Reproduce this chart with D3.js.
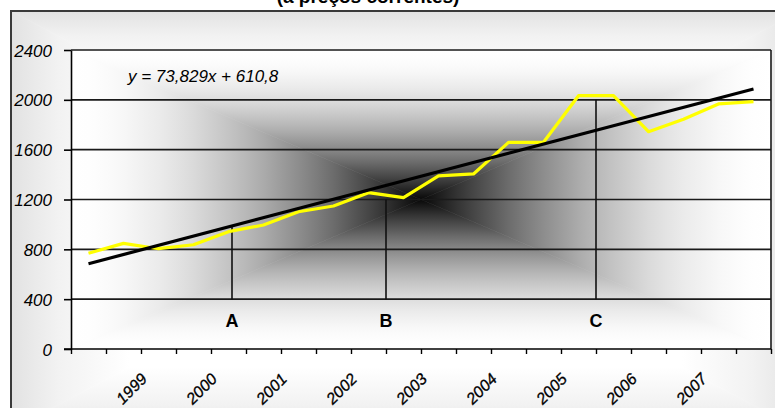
<!DOCTYPE html>
<html><head><meta charset="utf-8">
<script src="https://cdnjs.cloudflare.com/ajax/libs/d3/7.8.5/d3.min.js"></script>
<style>body{margin:0;background:#fff}svg{display:block}</style>
</head><body>
<svg id="chart" width="775" height="408"></svg>
<script>
// ---- data ----
const titleText = "(a preços correntes)";
const categories = [1,2,3,4,5,6,7,8,9,10,11,12,13,14,15,16,17,18,19,20];
const values = [768, 848, 805, 837, 942, 995, 1102, 1148, 1255, 1215, 1389, 1405, 1659, 1659, 2033, 2033, 1744, 1844, 1967, 1985];
const trendSlope = 73.829;
const trendIntercept = 610.8;
const equationText = "y = 73,829x + 610,8";
const yTicks = [0, 400, 800, 1200, 1600, 2000, 2400];
const yearLabels = ["1999","2000","2001","2002","2003","2004","2005","2006","2007"];
const markerLabels = ["A","B","C"];
const markerX = [5.1, 9.5, 15.5];
const markerTop = [990, 1200, 2000];
const markerBottom = 400;

// ---- layout ----
const svg = d3.select("#chart");
const P = {l:71, r:771, t:50, b:349};
const x = d3.scaleLinear().domain([0.5, categories.length + 0.5]).range([P.l, P.r]);
const y = d3.scaleLinear().domain([0, 2400]).range([P.b, P.t]);
const FONT = "'Liberation Sans', Arial, Helvetica, sans-serif";
const defs = svg.append("defs");

// rectangular "from center" gradient built from four triangles
function rectGradient(id, x0, y0, x1, y1, stops) {
  const cx = (x0 + x1) / 2, cy = (y0 + y1) / 2;
  const parts = [
    {k:"t", pts:[[x0,y0],[x1,y0],[cx,cy]], g:[cx,y0,cx,cy]},
    {k:"b", pts:[[x0,y1],[x1,y1],[cx,cy]], g:[cx,y1,cx,cy]},
    {k:"l", pts:[[x0,y0],[x0,y1],[cx,cy]], g:[x0,cy,cx,cy]},
    {k:"r", pts:[[x1,y0],[x1,y1],[cx,cy]], g:[x1,cy,cx,cy]}
  ];
  const gEl = svg.append("g");
  parts.forEach(p => {
    const lg = defs.append("linearGradient").attr("id", id + p.k)
      .attr("gradientUnits", "userSpaceOnUse")
      .attr("x1", p.g[0]).attr("y1", p.g[1]).attr("x2", p.g[2]).attr("y2", p.g[3]);
    stops.forEach(s => lg.append("stop").attr("offset", s[0]).attr("stop-color", s[1]));
    gEl.append("path").attr("d", "M" + p.pts.map(q => q.join(",")).join("L") + "Z")
      .attr("fill", "url(#" + id + p.k + ")").attr("stroke", "url(#" + id + p.k + ")").attr("stroke-width", 0.6);
  });
}
function profile(fn) {
  return d3.range(0, 21).map(i => {
    const t = i / 20; const v = Math.max(0, Math.min(255, Math.round(255 * fn(t))));
    return [t, d3.rgb(v, v, v).formatHex()];
  });
}

// chart area (light gradient)
const chartStops = [[0,"#e2e2e2"],[0.12,"#f2f2f2"],[0.3,"#ffffff"],[1,"#ffffff"]];
rectGradient("ca", 11, 11, 800, 430, chartStops);
svg.append("rect").attr("x", 11).attr("y", 11).attr("width", 800).attr("height", 420)
  .attr("fill", "none").attr("stroke", "#3a3a3a").attr("stroke-width", 2);

// title (cut off at top, as in the reference)
svg.append("text").attr("x", 368).attr("y", 3).attr("text-anchor", "middle")
  .attr("font-family", FONT).attr("font-weight", "bold").attr("font-size", 19)
  .attr("fill", "#000").text(titleText);

// plot area gradient: white edges to black centre
rectGradient("pa", P.l, P.t, P.r, P.b, profile(t => 1 - 0.97 * Math.pow(t, 1.8)));

// gridlines
svg.append("g").selectAll("line").data(yTicks.filter(d => d > 0)).join("line")
  .attr("x1", P.l).attr("x2", P.r).attr("y1", d => y(d)).attr("y2", d => y(d))
  .attr("stroke", "#1a1a1a").attr("stroke-width", 1.6);
// right plot border
svg.append("line").attr("x1", P.r).attr("x2", P.r).attr("y1", P.t).attr("y2", P.b)
  .attr("stroke", "#1a1a1a").attr("stroke-width", 1.6);

// y axis
const yAxis = svg.append("g").attr("transform", `translate(${P.l},0)`)
  .call(d3.axisLeft(y).tickValues(yTicks).tickFormat(d3.format("d"))
    .tickSize(7).tickSizeOuter(0).tickPadding(12));
yAxis.select(".domain").attr("stroke", "#000").attr("stroke-width", 1.6);
yAxis.selectAll(".tick line").attr("stroke", "#000").attr("stroke-width", 1.6);
yAxis.selectAll(".tick text").attr("font-family", FONT).attr("font-style", "italic")
  .attr("font-size", 17).attr("fill", "#000").attr("dy", "0.36em");

// x axis: ticks at category boundaries
const boundaries = d3.range(0, categories.length + 1).map(k => k + 0.5);
const xAxis = svg.append("g").attr("transform", `translate(0,${P.b})`)
  .call(d3.axisBottom(x).tickValues(boundaries).tickSize(5).tickSizeOuter(0).tickFormat(""));
xAxis.select(".domain").attr("stroke", "#000").attr("stroke-width", 1.6)
  .attr("d", `M${P.l - 7},0H${P.r}`);
xAxis.selectAll(".tick line").attr("stroke", "#000").attr("stroke-width", 1.4);

// year labels on every second boundary tick
svg.append("g").selectAll("text").data(yearLabels).join("text")
  .attr("transform", (d, i) => `translate(${x(boundaries[2 * i + 2]) + 7},${P.b + 31}) rotate(-45)`)
  .attr("text-anchor", "end").attr("font-family", FONT).attr("font-style", "italic")
  .attr("font-size", 16).attr("fill", "#000").attr("stroke", "#000").attr("stroke-width", 0.3)
  .text(d => d);

// marker lines A, B, C
svg.append("g").selectAll("line").data(markerX).join("line")
  .attr("x1", d => x(d)).attr("x2", d => x(d))
  .attr("y1", (d, i) => y(markerTop[i])).attr("y2", y(markerBottom))
  .attr("stroke", "#111").attr("stroke-width", 1.6);
svg.append("g").selectAll("text").data(markerLabels).join("text")
  .attr("x", (d, i) => x(markerX[i])).attr("y", y(markerBottom) + 28)
  .attr("text-anchor", "middle").attr("font-family", FONT).attr("font-weight", "bold")
  .attr("font-size", 18).attr("fill", "#000").text(d => d);

// yellow series
const line = d3.line().x((d, i) => x(categories[i])).y(d => y(d));
svg.append("path").datum(values).attr("d", line)
  .attr("fill", "none").attr("stroke", "#ffff00").attr("stroke-width", 3.2)
  .attr("stroke-linejoin", "round");

// linear trend line
const tEnds = [categories[0], categories[categories.length - 1]];
svg.append("path").datum(tEnds)
  .attr("d", d3.line().x(d => x(d)).y(d => y(trendSlope * d + trendIntercept)))
  .attr("fill", "none").attr("stroke", "#000").attr("stroke-width", 3.2);

// equation
svg.append("text").attr("x", 128).attr("y", 81.5)
  .attr("font-family", FONT).attr("font-style", "italic").attr("font-size", 17)
  .attr("fill", "#000").text(equationText);
</script>
</body></html>
